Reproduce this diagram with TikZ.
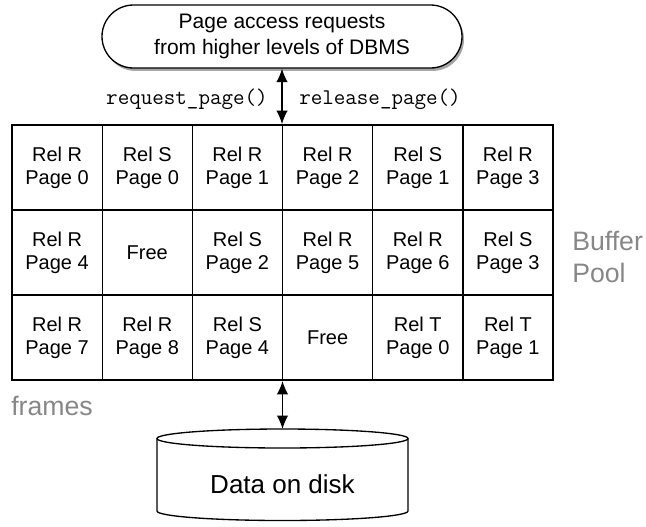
\documentclass[tikz,border=0pt]{standalone}
\usepackage{fontspec}
\setmainfont{Liberation Sans}
\usetikzlibrary{arrows.meta,shadows,fit}
\definecolor{labelgray}{RGB}{135,135,135}
\tikzset{
  cell/.style={draw, line width=1pt, minimum width=67.63pt, minimum height=63.75pt,
    inner sep=0pt, align=center, font=\fontsize{15}{17.25}\selectfont},
  reqbox/.style={draw, fill=white, line width=1pt, minimum width=270pt, minimum height=47.25pt,
    rounded corners=23.6pt, align=center, font=\fontsize{15.75}{19.5}\selectfont,
    drop shadow={shadow xshift=1.5pt, shadow yshift=-2.2pt, fill=black, opacity=0.35}},
  calllbl/.style={font=\fontsize{16.8}{18}\selectfont\ttfamily, inner sep=0pt},
  sidelbl/.style={text=labelgray, font=\fontsize{20}{22}\selectfont, inner sep=0pt},
  link/.style={line width=1pt, {Latex[length=10pt,width=8.5pt]}-{Latex[length=10pt,width=8.5pt]}},
  diskline/.style={line width=1pt}
}
\begin{document}
\begin{tikzpicture}[x=0.75pt,y=-0.75pt]
\useasboundingbox (0,0) rectangle (646,526);

% requesting layer
\node[reqbox] (req) at (282,36.5) {Page access requests\\from higher levels of DBMS};

% buffer pool frames: 3 rows x 6 columns
\def\cx#1{12+90.17*(#1-0.5)}
\def\cy#1{125+85*(#1-0.5)}
\node[cell] (c11) at ({\cx1},{\cy1}) {Rel R\\Page 0};
\node[cell] (c12) at ({\cx2},{\cy1}) {Rel S\\Page 0};
\node[cell] (c13) at ({\cx3},{\cy1}) {Rel R\\Page 1};
\node[cell] (c14) at ({\cx4},{\cy1}) {Rel R\\Page 2};
\node[cell] (c15) at ({\cx5},{\cy1}) {Rel S\\Page 1};
\node[cell] (c16) at ({\cx6},{\cy1}) {Rel R\\Page 3};
\node[cell] (c21) at ({\cx1},{\cy2}) {Rel R\\Page 4};
\node[cell] (c22) at ({\cx2},{\cy2}) {Free};
\node[cell] (c23) at ({\cx3},{\cy2}) {Rel S\\Page 2};
\node[cell] (c24) at ({\cx4},{\cy2}) {Rel R\\Page 5};
\node[cell] (c25) at ({\cx5},{\cy2}) {Rel R\\Page 6};
\node[cell] (c26) at ({\cx6},{\cy2}) {Rel S\\Page 3};
\node[cell] (c31) at ({\cx1},{\cy3}) {Rel R\\Page 7};
\node[cell] (c32) at ({\cx2},{\cy3}) {Rel R\\Page 8};
\node[cell] (c33) at ({\cx3},{\cy3}) {Rel S\\Page 4};
\node[cell] (c34) at ({\cx4},{\cy3}) {Free};
\node[cell] (c35) at ({\cx5},{\cy3}) {Rel T\\Page 0};
\node[cell] (c36) at ({\cx6},{\cy3}) {Rel T\\Page 1};
\node[fit=(c11)(c36), inner sep=0pt] (pool) {};

% side labels
\node[sidelbl, anchor=base west] (buflbl) at (572,250) {Buffer};
\node[sidelbl, anchor=base west] (poollbl) at (572,282) {Pool};
\node[sidelbl, anchor=base west] (frmlbl) at (11,415) {frames};

% disk
\coordinate (disktop) at (282.5,429);
\draw[diskline, fill=white] (157,438.5) -- (157,511) arc[start angle=180, end angle=0, x radius=125.5, y radius=9.5]
  -- (408,438.5);
\draw[diskline, fill=white] (282.5,438.5) ellipse [x radius=125.5, y radius=9.5];
\node[font=\fontsize{19.5}{22}\selectfont] (disk) at (282.5,484) {Data on disk};

% connectors
\draw[link] (req.south) -- (req.south |- pool.north);
\draw[link] (disktop |- pool.south) -- (disktop);
\node[calllbl, anchor=east] (reqcall) at (268,99) {request\_page()};
\node[calllbl, anchor=west] (relcall) at (299,99) {release\_page()};
\end{tikzpicture}
\end{document}
